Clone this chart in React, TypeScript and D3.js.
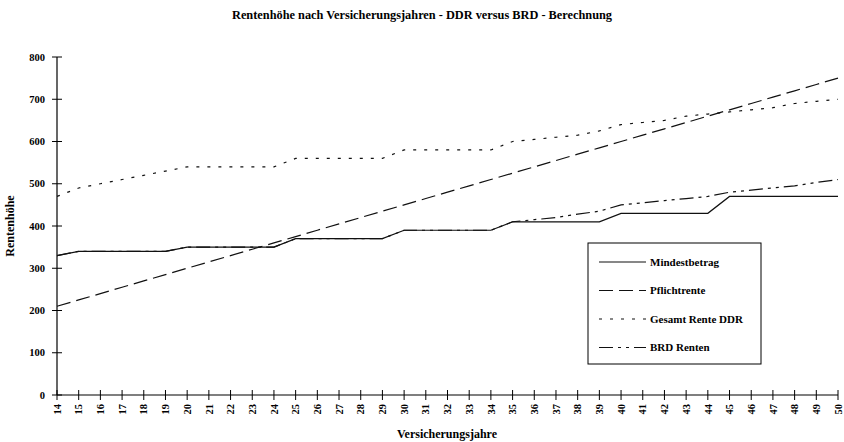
import React from "react";
import * as d3 from "d3";

const years = d3.range(14, 51);
const mindestbetrag = [330, 340, 340, 340, 340, 340, 350, 350, 350, 350, 350, 370, 370, 370, 370, 370, 390, 390, 390, 390, 390, 410, 410, 410, 410, 410, 430, 430, 430, 430, 430, 470, 470, 470, 470, 470, 470];
const pflichtrente = [210, 225, 240, 255, 270, 285, 300, 315, 330, 345, 360, 375, 390, 405, 420, 435, 450, 465, 480, 495, 510, 525, 540, 555, 570, 585, 600, 615, 630, 645, 660, 675, 690, 705, 720, 735, 750];
const gesamtRenteDDR = [470, 490, 500, 510, 520, 530, 540, 540, 540, 540, 540, 560, 560, 560, 560, 560, 580, 580, 580, 580, 580, 600, 605, 610, 615, 625, 640, 645, 650, 660, 665, 670, 675, 680, 690, 695, 700];
const brdRenten = [330, 340, 340, 340, 340, 340, 350, 350, 350, 350, 350, 370, 370, 370, 370, 370, 390, 390, 390, 390, 390, 410, 415, 420, 428, 435, 450, 455, 460, 465, 470, 480, 485, 490, 495, 503, 510];
const yTicks = [0, 100, 200, 300, 400, 500, 600, 700, 800];

const seriesNames = ["Mindestbetrag", "Pflichtrente", "Gesamt Rente DDR", "BRD Renten"];
const seriesData = [mindestbetrag, pflichtrente, gesamtRenteDDR, brdRenten];
const dashes = ["none", "14 6", "3 8", "14 5 3 5 3 5"];

const font = "'Liberation Serif', 'Times New Roman', serif";

export default function App() {
  const W = 844, H = 442;
  const x = d3.scaleLinear().domain([14, 50]).range([57, 838]);
  const y = d3.scaleLinear().domain([0, 800]).range([395, 57]);
  const line = d3.line<number>().x((_, i) => x(years[i])).y((d) => y(d));

  return (
    <svg width={W} height={H} style={{ position: "absolute", left: 0, top: 0, background: "#fff" }} fontFamily={font}>
      <rect width={W} height={H} fill="#fff" />
      <text x={422} y={19} textAnchor="middle" fontSize={11.5} fontWeight="bold" textLength={380} lengthAdjust="spacingAndGlyphs">
        Rentenhöhe nach Versicherungsjahren - DDR versus BRD - Berechnung
      </text>

      {/* axes */}
      <line x1={x(14)} x2={x(14)} y1={y(800)} y2={y(0)} stroke="#000" strokeWidth={1.2} />
      <line x1={x(14)} x2={x(50)} y1={y(0)} y2={y(0)} stroke="#000" strokeWidth={1.2} />
      {yTicks.map((t) => (
        <g key={t}>
          <line x1={x(14) - 5} x2={x(14) + 5} y1={y(t)} y2={y(t)} stroke="#000" strokeWidth={1} />
          <text x={45} y={y(t)} dy="0.35em" textAnchor="end" fontSize={10.5} fontWeight="bold">{t}</text>
        </g>
      ))}
      {years.map((yr) => (
        <g key={yr}>
          <line x1={x(yr)} x2={x(yr)} y1={y(0) - 5} y2={y(0) + 5} stroke="#000" strokeWidth={1} />
          <text transform={`translate(${x(yr)},${y(0) + 9}) rotate(-90)`} dy="0.35em" textAnchor="end" fontSize={10.5} fontWeight="bold">{yr}</text>
        </g>
      ))}
      <text x={447} y={438} textAnchor="middle" fontSize={12} fontWeight="bold">Versicherungsjahre</text>
      <text transform={`translate(14,226) rotate(-90)`} textAnchor="middle" fontSize={12} fontWeight="bold">Rentenhöhe</text>

      {/* series */}
      {seriesData.map((s, i) => (
        <path key={seriesNames[i]} d={line(s) || ""} fill="none" stroke="#111" strokeWidth={1.2} strokeDasharray={dashes[i]} />
      ))}

      {/* legend */}
      <rect x={588} y={243} width={173} height={121} fill="#fff" stroke="#000" strokeWidth={1} />
      {seriesNames.map((n, i) => {
        const ly = 262 + i * 28.5;
        return (
          <g key={n}>
            <line x1={599} x2={646} y1={ly} y2={ly} stroke="#111" strokeWidth={1.2} strokeDasharray={dashes[i]} />
            <text x={650} y={ly} dy="0.35em" fontSize={11} fontWeight="bold">{n}</text>
          </g>
        );
      })}
    </svg>
  );
}
